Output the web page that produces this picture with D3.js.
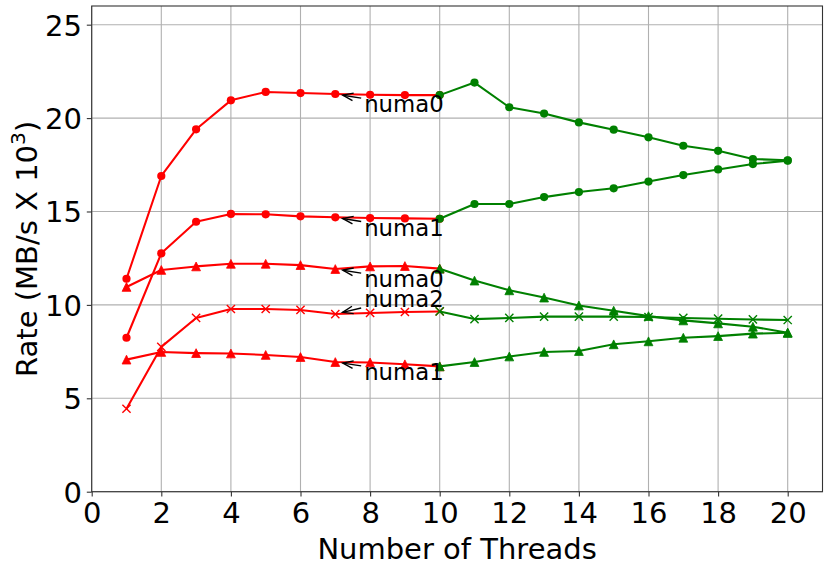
<!DOCTYPE html>
<html><head><meta charset="utf-8">
<script src="https://cdn.jsdelivr.net/npm/d3@7"></script>
<style>body{margin:0;background:#fff}svg{display:block;font-family:"DejaVu Sans",sans-serif}</style>
</head><body><svg id="c" width="830" height="574"></svg>
<script>
const threadsRed = [1,2,3,4,5,6,7,8,9,10];
const threadsGreen = [10,11,12,13,14,15,16,17,18,19,20];
const redCircle0 = [11.4,16.9,19.4,20.95,21.4,21.34,21.29,21.25,21.23,21.23];
const greenCircle0 = [21.23,21.9,20.58,20.24,19.77,19.38,18.97,18.52,18.25,17.81,17.74];
const redCircle1 = [8.24,12.76,14.45,14.87,14.85,14.74,14.69,14.65,14.63,14.61];
const greenCircle1 = [14.61,15.4,15.4,15.77,16.04,16.24,16.6,16.95,17.25,17.54,17.72];
const redTri0 = [10.96,11.87,12.06,12.2,12.2,12.13,11.92,12.06,12.08,11.94];
const greenTri0 = [11.94,11.3,10.78,10.39,9.97,9.69,9.4,9.17,9.01,8.83,8.51];
const redX2 = [4.44,7.75,9.3,9.78,9.78,9.73,9.51,9.57,9.62,9.65];
const greenX2 = [9.65,9.24,9.3,9.37,9.37,9.37,9.35,9.3,9.26,9.22,9.19];
const redTri1 = [7.07,7.48,7.42,7.4,7.32,7.21,6.94,6.92,6.82,6.71];
const greenTri1 = [6.71,6.94,7.24,7.48,7.53,7.89,8.05,8.24,8.33,8.46,8.51];
const xTicks = [0,2,4,6,8,10,12,14,16,18,20];
const yTicks = [0,5,10,15,20,25];
const annoText = ["numa0","numa1","numa0","numa2","numa1"];
const annoSeries = [redCircle0, redCircle1, redTri0, redX2, redTri1];
const annoPointX = 7;
const annoTextX = 7.83;
const annoTextY = [20.3,13.7,10.95,9.89,6.0];

const svg = d3.select("#c");
const L=91.7, R=822.5, T=6, B=491.7;
const x = d3.scaleLinear().domain([0,21]).range([L,R]);
const y = d3.scaleLinear().domain([0,26]).range([B,T]);
const FS = 29;

// grid
const g = svg.append("g");
g.selectAll(".gx").data(xTicks).join("line").attr("x1",d=>x(d)).attr("x2",d=>x(d)).attr("y1",T).attr("y2",B).attr("stroke","#b0b0b0").attr("stroke-width",1.1);
g.selectAll(".gy").data(yTicks).join("line").attr("y1",d=>y(d)).attr("y2",d=>y(d)).attr("x1",L).attr("x2",R).attr("stroke","#b0b0b0").attr("stroke-width",1.1);

// axes
const xa = svg.append("g").attr("transform",`translate(0,${B})`).call(d3.axisBottom(x).tickValues(xTicks).tickSize(4.9).tickPadding(4.6).tickSizeOuter(0));
const ya = svg.append("g").attr("transform",`translate(${L},0)`).call(d3.axisLeft(y).tickValues(yTicks).tickSize(4.9).tickPadding(4.9).tickSizeOuter(0));
[xa,ya].forEach(a=>{a.select(".domain").remove();a.selectAll("line").attr("stroke","#333").attr("stroke-width",1.1);a.selectAll("text").attr("font-family","DejaVu Sans").attr("font-size",FS).attr("fill","#000");});
xa.selectAll("text").attr("dy","0.76em");
ya.selectAll("text").attr("dy","0.36em");

const line = d3.line().x(d=>x(d[0])).y(d=>y(d[1]));
function series(xs, ys, color, marker){
  const pts = xs.map((v,i)=>[v,ys[i]]);
  svg.append("path").attr("d",line(pts)).attr("fill","none").attr("stroke",color).attr("stroke-width",2.08).attr("stroke-linejoin","round");
  const m = svg.append("g");
  pts.forEach(p=>{
    const cx=x(p[0]), cy=y(p[1]);
    if(marker==="o") m.append("circle").attr("cx",cx).attr("cy",cy).attr("r",4.1).attr("fill",color);
    else if(marker==="^") { const s=4.4; m.append("path").attr("d",`M${cx},${cy-s}L${cx-s},${cy+s}L${cx+s},${cy+s}Z`).attr("fill",color).attr("stroke",color).attr("stroke-width",0.8); }
    else { const s=4.1; m.append("path").attr("d",`M${cx-s},${cy-s}L${cx+s},${cy+s}M${cx-s},${cy+s}L${cx+s},${cy-s}`).attr("stroke",color).attr("stroke-width",1.4).attr("fill","none"); }
  });
}
const RED="#ff0000", GREEN="#008000";
series(threadsRed, redCircle0, RED, "o");
series(threadsRed, redCircle1, RED, "o");
series(threadsRed, redTri0, RED, "^");
series(threadsRed, redX2, RED, "x");
series(threadsRed, redTri1, RED, "^");
series(threadsGreen, greenCircle0, GREEN, "o");
series(threadsGreen, greenCircle1, GREEN, "o");
series(threadsGreen, greenTri0, GREEN, "^");
series(threadsGreen, greenX2, GREEN, "x");
series(threadsGreen, greenTri1, GREEN, "^");

// annotations
annoText.forEach((t,i)=>{
  const px = x(annoPointX), py = y(annoSeries[i][threadsRed.indexOf(annoPointX)]);
  const tx = x(annoTextX), ty = y(annoTextY[i]);
  svg.append("text").attr("x",tx).attr("y",ty).attr("font-size",22.8).attr("fill","#000").text(t);
  const cy = ty - 8;
  const ex = tx - 3, ey = py + (cy - py)*0.4;
  const dx = ex-px, dy = ey-py, len=Math.hypot(dx,dy), ux=dx/len, uy=dy/len;
  const sx = px + ux*7.5, sy = py + uy*7.5;
  svg.append("line").attr("x1",sx).attr("y1",sy).attr("x2",ex).attr("y2",ey).attr("stroke","#000").attr("stroke-width",1.4);
  const hl=10.5, hw=3.8;
  const bx=sx+ux*hl, by=sy+uy*hl;
  svg.append("path").attr("d",`M${bx-uy*hw},${by+ux*hw}L${sx},${sy}L${bx+uy*hw},${by-ux*hw}`).attr("fill","none").attr("stroke","#000").attr("stroke-width",1.4);
});

// frame
svg.append("rect").attr("x",L).attr("y",T).attr("width",R-L).attr("height",B-T).attr("fill","none").attr("stroke","#333").attr("stroke-width",1.1);

// labels
svg.append("text").attr("x",(L+R)/2).attr("y",559).attr("text-anchor","middle").attr("font-size",FS).text("Number of Threads");
const yl = svg.append("text").attr("transform",`translate(37,${(T+B)/2}) rotate(-90)`).attr("text-anchor","middle").attr("font-size",FS);
yl.append("tspan").text("Rate (MB/s X 10");
yl.append("tspan").attr("font-size",FS*0.7).attr("dy",-12).text("3");
yl.append("tspan").attr("dy",12).text(")");
</script></body></html>
